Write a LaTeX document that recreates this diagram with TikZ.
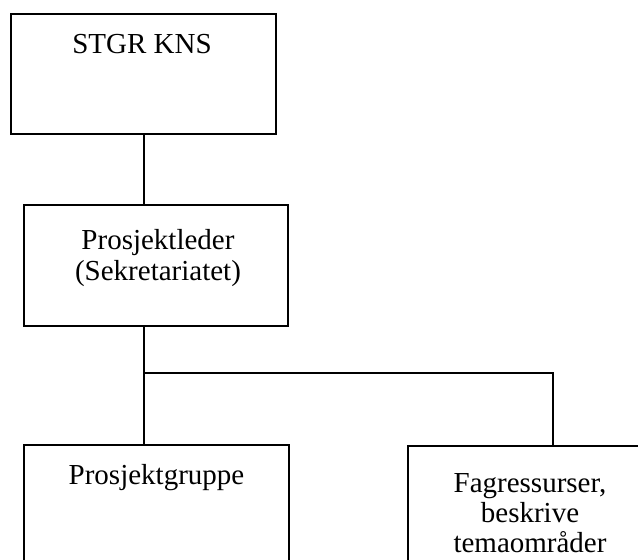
\documentclass[tikz,border=0pt]{standalone}
\usepackage{fontspec}
\setmainfont{Liberation Serif}
\begin{document}
\begin{tikzpicture}[x=1pt,y=-1pt,
  box/.style={draw=black,line width=1.7pt,rectangle,inner sep=0pt},
  lbl/.style={font=\fontsize{29}{31}\selectfont,inner sep=0pt,anchor=base},
  conn/.style={draw=black,line width=1.7pt}]
\useasboundingbox (0,0) rectangle (638,560);
\clip (0,0) rectangle (638,560);
\node[box,minimum width=265pt,minimum height=120pt] (stgr) at (143.5,74) {};
\node[box,minimum width=264pt,minimum height=121pt] (pl) at (156,265.5) {};
\node[box,minimum width=265pt,minimum height=170pt] (pg) at (156.5,530) {};
\node[box,minimum width=244pt,minimum height=170pt] (fr) at (530,531) {};
\node[lbl] (t1) at (142,53.3) {STGR KNS};
\node[lbl] (t2a) at (158,249) {Prosjektleder};
\node[lbl] (t2b) at (158,280) {(Sekretariatet)};
\node[lbl] (t3) at (156.5,484) {Prosjektgruppe};
\node[lbl] (t4a) at (530,492) {Fagressurser,};
\node[lbl] (t4b) at (530,522.5) {beskrive};
\node[lbl] (t4c) at (530,552) {temaområder};
\coordinate (j) at (144,373);
\coordinate (jr) at (553,373);
\draw[conn] (stgr.south -| j) -- (pl.north -| j);
\draw[conn] (pl.south -| j) -- (pg.north -| j);
\draw[conn] (j) -- (jr) -- (fr.north -| jr);
\end{tikzpicture}
\end{document}
